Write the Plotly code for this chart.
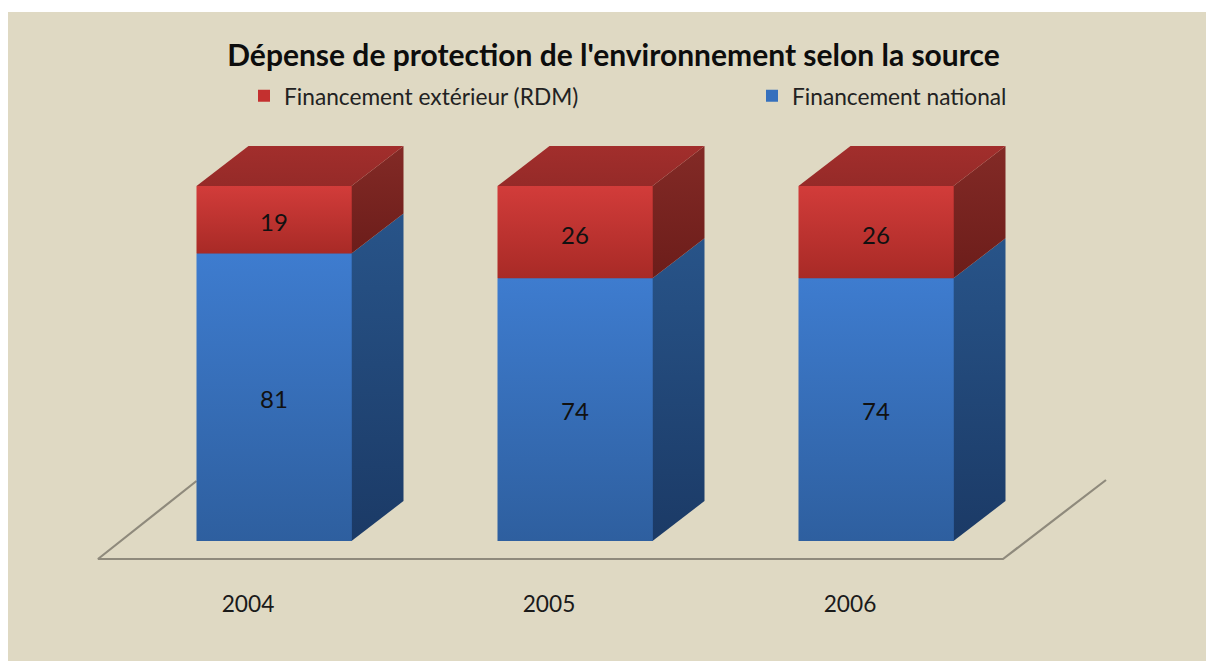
import plotly.graph_objects as go

years = ["2004", "2005", "2006"]
national = [81, 74, 74]
exterieur = [19, 26, 26]
series_national = "Financement national"
series_exterieur = "Financement extérieur (RDM)"
title_text = "Dépense de protection de l'environnement selon la source"

W, H = 1206, 661
BOTTOM_MARGIN = 73
PLOT_H = H - BOTTOM_MARGIN
PX_PER_UNIT = 3.55          # vertical pixels per value unit
BASE_PX = 541               # pixel row of value 0
CENTER0_PX, STEP_PX = 274, 301
BAR_W = 155 / STEP_PX       # in category units
DX = 52 / STEP_PX           # depth offset in category units
DY = 40 / PX_PER_UNIT       # depth offset in value units

x_range = [-CENTER0_PX / STEP_PX, (W - CENTER0_PX) / STEP_PX]
y_range = [(BASE_PX - PLOT_H) / PX_PER_UNIT, BASE_PX / PX_PER_UNIT]
xs = list(range(len(years)))
FLOOR_Y = -18 / PX_PER_UNIT
LABEL_FONT = dict(family="Lato, Carlito, sans-serif", size=24, color="#111111")


def grad(top, bottom):
    return [[0, bottom], [1, top]]


def poly(px, py, colorscale, y_min, y_max):
    return go.Scatter(
        x=px, y=py, mode="lines", line=dict(width=0), fill="toself",
        fillgradient=dict(type="vertical", colorscale=colorscale, start=y_min, stop=y_max),
        showlegend=False, hoverinfo="skip",
    )


fig = go.Figure()

# Real stacked bars: carry the values and the legends
fig.add_trace(go.Bar(x=xs, y=national, name=series_national, width=BAR_W, legend="legend2",
                     marker=dict(color="#3670bd", line=dict(width=0))))
fig.add_trace(go.Bar(x=xs, y=exterieur, name=series_exterieur, width=BAR_W, legend="legend",
                     marker=dict(color="#c4302f", line=dict(width=0))))

# Floor outline
fl = xs[0] - 176 / STEP_PX
fr = xs[-1] + 127 / STEP_PX
fig.add_trace(go.Scatter(
    x=[xs[0] - BAR_W / 2, fl, fr, fr + 103 / STEP_PX],
    y=[FLOOR_Y + 78 / PX_PER_UNIT, FLOOR_Y, FLOOR_Y, FLOOR_Y + 79 / PX_PER_UNIT],
    mode="lines", line=dict(color="#8f8a7c", width=2.2),
    showlegend=False, hoverinfo="skip"))

for x, n, e in zip(xs, national, exterieur):
    l, r = x - BAR_W / 2, x + BAR_W / 2
    t = n + e
    fig.add_trace(poly([r, r + DX, r + DX, r], [0, DY, n + DY, n],
                       grad("#285489", "#1b3a66"), 0, n + DY))
    fig.add_trace(poly([r, r + DX, r + DX, r], [n, n + DY, t + DY, t],
                       grad("#832a26", "#6c1d1a"), n, t + DY))
    fig.add_trace(poly([l, r, r + DX, l + DX], [t, t, t + DY, t + DY],
                       grad("#a22e2c", "#952a28"), t, t + DY))
    fig.add_trace(poly([l, r, r, l], [0, 0, n, n],
                       grad("#3e7ccf", "#2e5f9f"), 0, n))
    fig.add_trace(poly([l, r, r, l], [n, n, t, t],
                       grad("#d23c3a", "#a82a26"), n, t))

# Data labels
for vals, bases, shift in ((national, [0, 0, 0], 1.35), (exterieur, national, 1.6)):
    fig.add_trace(go.Scatter(
        x=xs, y=[b + v / 2 - shift for b, v in zip(bases, vals)],
        text=[str(v) for v in vals], mode="text", textfont=LABEL_FONT,
        showlegend=False, hoverinfo="skip"))

LEGEND_COMMON = dict(orientation="h", xanchor="left", yanchor="middle", y=1 - 96 / PLOT_H,
                     font=dict(size=22.7, color="#222222"), bgcolor="rgba(0,0,0,0)")

fig.update_layout(
    width=W, height=H, autosize=False,
    margin=dict(l=0, r=0, t=0, b=BOTTOM_MARGIN, pad=0),
    paper_bgcolor="#ffffff", plot_bgcolor="rgba(0,0,0,0)",
    barmode="stack", bargap=0,
    font=dict(family="Lato, Carlito, sans-serif", color="#1a1a1a"),
    title=dict(text=f"<b>{title_text}</b>", x=613.5 / W, xanchor="center", y=1 - 55 / H,
               yanchor="middle", font=dict(size=30, color="#0d0d0d")),
    legend=dict(x=244 / W, **LEGEND_COMMON),
    legend2=dict(x=752 / W, **LEGEND_COMMON),
    xaxis=dict(range=x_range, tickmode="array", tickvals=[x - 26 / STEP_PX for x in xs],
               ticktext=years, showgrid=False, zeroline=False, showline=False, ticks="",
               tickfont=dict(size=22.7, color="#1a1a1a")),
    yaxis=dict(range=y_range, visible=False, showgrid=False, zeroline=False),
    shapes=[dict(type="rect", xref="paper", yref="paper", layer="below", line=dict(width=0),
                 fillcolor="#dfd9c3", x0=8 / W, x1=1,
                 y0=-BOTTOM_MARGIN / PLOT_H, y1=1 - 12 / PLOT_H)],
)

fig.write_html("out.html", config=dict(displayModeBar=False),
               post_script="document.body.style.margin='0';")
